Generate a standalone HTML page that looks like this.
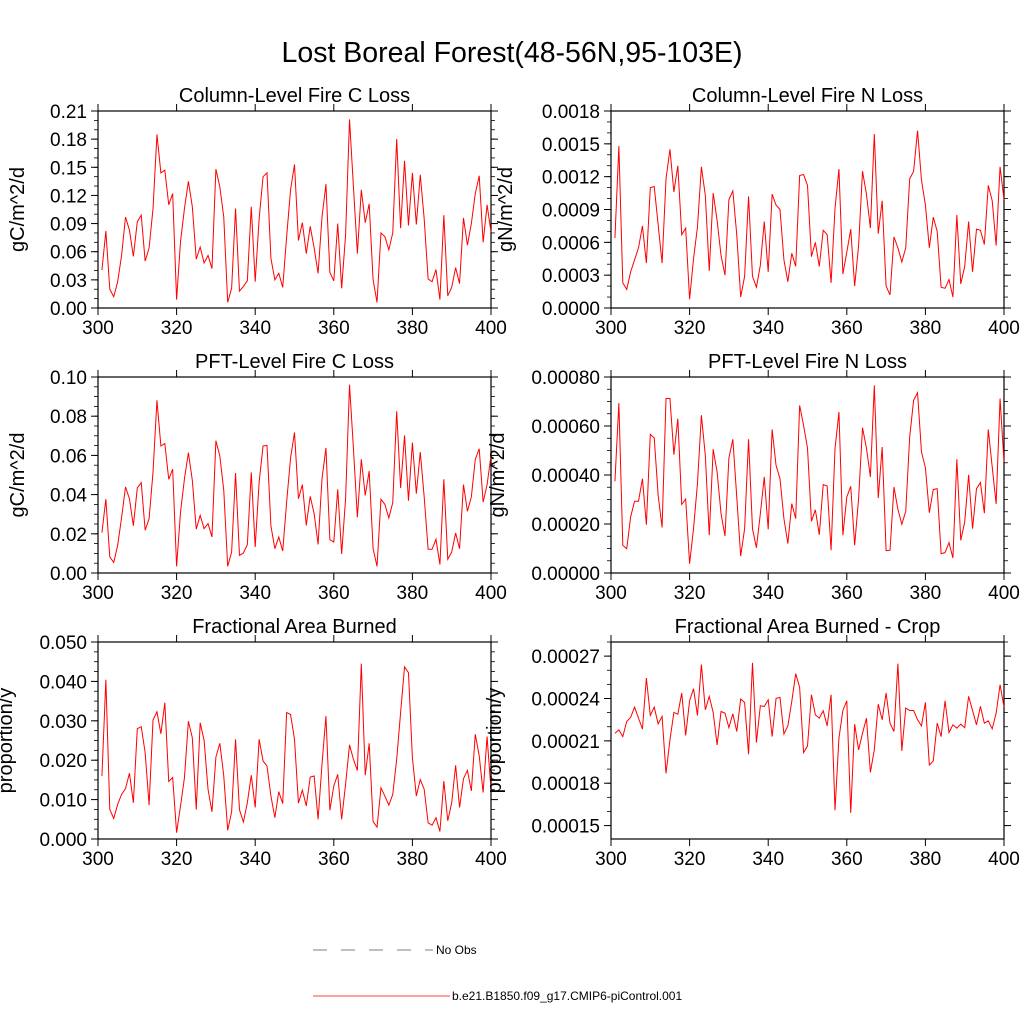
<!DOCTYPE html>
<html><head><meta charset="utf-8"><style>
html,body{margin:0;padding:0;background:#fff}
svg{display:block;font-family:"Liberation Sans",sans-serif}
</style></head><body>
<svg id="chart" width="1024" height="1024" viewBox="0 0 1024 1024">
<text x="512" y="62" text-anchor="middle" font-size="28.5">Lost Boreal Forest(48-56N,95-103E)</text>
<g id="panels"></g>
<g>
<line x1="313" y1="950" x2="433" y2="950" stroke="#555" stroke-width="0.8" stroke-dasharray="14,14"/>
<text x="436" y="954" font-size="12">No Obs</text>
<line x1="313" y1="996" x2="450" y2="996" stroke="red" stroke-width="0.8"/>
<text x="452" y="1000" font-size="12">b.e21.B1850.f09_g17.CMIP6-piControl.001</text>
</g>
</svg>
<script>
const years = Array.from({length:100},(_,i)=>301+i);
const xTicks = [300,320,340,360,380,400];
const colFireC = [0.0405,0.082,0.020,0.012,0.028,0.056,0.097,0.083,0.055,0.092,0.099,0.050,0.064,0.106,0.185,0.144,0.147,0.110,0.122,0.009,0.071,0.106,0.135,0.108,0.052,0.065,0.048,0.056,0.042,0.148,0.129,0.097,0.006,0.021,0.106,0.018,0.023,0.029,0.108,0.028,0.095,0.140,0.144,0.053,0.030,0.037,0.022,0.076,0.126,0.153,0.072,0.091,0.058,0.087,0.064,0.037,0.097,0.132,0.038,0.029,0.090,0.021,0.078,0.201,0.129,0.058,0.126,0.091,0.111,0.030,0.006,0.080,0.076,0.062,0.080,0.180,0.085,0.157,0.088,0.144,0.089,0.142,0.095,0.031,0.028,0.041,0.009,0.099,0.013,0.022,0.043,0.026,0.096,0.067,0.090,0.122,0.141,0.070,0.110,0.081];
const colFireN = [0.00064,0.00148,0.00023,0.00017,0.00033,0.00044,0.00055,0.00075,0.00041,0.00110,0.00111,0.00076,0.00041,0.00118,0.00145,0.00106,0.00130,0.00067,0.00073,0.00008,0.00045,0.00074,0.00129,0.00103,0.00034,0.00105,0.00080,0.00048,0.00030,0.00099,0.00107,0.00067,0.00010,0.00029,0.00102,0.00029,0.00019,0.00039,0.00079,0.00033,0.00104,0.00094,0.00090,0.00044,0.00024,0.00050,0.00038,0.00121,0.00122,0.00112,0.00047,0.00060,0.00038,0.00071,0.00067,0.00023,0.00091,0.00127,0.00031,0.00051,0.00072,0.00020,0.00057,0.00125,0.00104,0.00073,0.00159,0.00068,0.00098,0.00020,0.00012,0.00065,0.00055,0.00042,0.00055,0.00118,0.00125,0.00162,0.00117,0.00094,0.00055,0.00083,0.00070,0.00019,0.00018,0.00026,0.00010,0.00085,0.00022,0.00038,0.00079,0.00033,0.00072,0.00071,0.00058,0.00112,0.00098,0.00057,0.00129,0.00099];
const pftFireC = [0.0206,0.0377,0.0082,0.0054,0.0141,0.0282,0.0439,0.0379,0.0241,0.0434,0.0461,0.0218,0.0277,0.0515,0.0881,0.0648,0.0661,0.0478,0.0530,0.0034,0.0311,0.0481,0.0614,0.0473,0.0224,0.0294,0.0226,0.0252,0.0184,0.0675,0.0597,0.0422,0.0034,0.0107,0.0510,0.0090,0.0102,0.0145,0.0513,0.0133,0.0464,0.0648,0.0651,0.0240,0.0124,0.0184,0.0112,0.0362,0.0587,0.0717,0.0379,0.0451,0.0243,0.0391,0.0303,0.0146,0.0481,0.0638,0.0170,0.0158,0.0427,0.0097,0.0379,0.0961,0.0634,0.0284,0.0580,0.0396,0.0520,0.0124,0.0034,0.0376,0.0350,0.0281,0.0359,0.0825,0.0434,0.0702,0.0369,0.0665,0.0405,0.0617,0.0388,0.0121,0.0121,0.0172,0.0043,0.0478,0.0070,0.0107,0.0204,0.0124,0.0451,0.0315,0.0388,0.0580,0.0634,0.0362,0.0450,0.0600];
const pftFireN = [0.000374,0.000694,0.000113,0.000099,0.000229,0.000293,0.000293,0.000385,0.000197,0.000566,0.000551,0.000317,0.000186,0.000712,0.000712,0.000483,0.000630,0.000280,0.000302,0.000038,0.000181,0.000365,0.000644,0.000480,0.000154,0.000505,0.000412,0.000242,0.000151,0.000469,0.000546,0.000310,0.000069,0.000181,0.000546,0.000181,0.000103,0.000242,0.000392,0.000178,0.000586,0.000439,0.000385,0.000222,0.000120,0.000283,0.000222,0.000684,0.000603,0.000510,0.000211,0.000258,0.000156,0.000361,0.000355,0.000093,0.000507,0.000657,0.000154,0.000310,0.000354,0.000113,0.000303,0.000593,0.000510,0.000392,0.000766,0.000306,0.000514,0.000091,0.000093,0.000351,0.000260,0.000199,0.000252,0.000555,0.000705,0.000736,0.000494,0.000430,0.000246,0.000341,0.000344,0.000079,0.000083,0.000124,0.000061,0.000464,0.000133,0.000208,0.000401,0.000181,0.000344,0.000369,0.000244,0.000586,0.000433,0.000282,0.000712,0.000453];
const areaBurned = [0.0160,0.0404,0.0075,0.0052,0.0088,0.0113,0.0128,0.0167,0.0092,0.0280,0.0285,0.0219,0.0086,0.0302,0.0323,0.0267,0.0346,0.0146,0.0156,0.0016,0.0084,0.0156,0.0299,0.0257,0.0075,0.0295,0.0250,0.0126,0.0069,0.0208,0.0243,0.0160,0.0022,0.0069,0.0253,0.0074,0.0043,0.0092,0.0162,0.0080,0.0253,0.0198,0.0185,0.0109,0.0054,0.0120,0.0090,0.0321,0.0316,0.0253,0.0091,0.0124,0.0084,0.0157,0.0160,0.0050,0.0190,0.0312,0.0073,0.0135,0.0164,0.0050,0.0139,0.0239,0.0202,0.0174,0.0445,0.0162,0.0243,0.0044,0.0030,0.0130,0.0109,0.0086,0.0113,0.0202,0.0321,0.0437,0.0422,0.0206,0.0109,0.0151,0.0126,0.0041,0.0035,0.0054,0.0019,0.0147,0.0046,0.0092,0.0187,0.0080,0.0153,0.0174,0.0122,0.0266,0.0211,0.0118,0.0260,0.0125];
const areaBurnedCrop = [21.54e-5,21.78e-5,21.30e-5,22.37e-5,22.66e-5,23.39e-5,22.61e-5,21.83e-5,25.45e-5,22.80e-5,23.39e-5,22.20e-5,22.73e-5,18.70e-5,21.07e-5,23.01e-5,22.89e-5,24.39e-5,21.38e-5,23.84e-5,24.69e-5,22.80e-5,26.40e-5,23.20e-5,24.15e-5,23.01e-5,20.71e-5,23.08e-5,22.96e-5,21.94e-5,22.92e-5,21.66e-5,23.96e-5,23.72e-5,20.05e-5,26.52e-5,20.88e-5,23.48e-5,23.44e-5,23.91e-5,21.30e-5,24.01e-5,24.08e-5,21.49e-5,22.06e-5,23.79e-5,25.76e-5,24.79e-5,20.17e-5,20.64e-5,24.27e-5,22.84e-5,22.61e-5,23.13e-5,22.06e-5,24.27e-5,16.09e-5,21.19e-5,23.15e-5,23.84e-5,15.90e-5,22.18e-5,20.36e-5,21.54e-5,22.61e-5,18.77e-5,20.36e-5,23.60e-5,22.49e-5,24.39e-5,22.25e-5,21.66e-5,26.47e-5,20.29e-5,23.32e-5,23.15e-5,23.15e-5,22.49e-5,22.06e-5,23.72e-5,19.29e-5,19.57e-5,22.25e-5,21.30e-5,23.84e-5,21.59e-5,22.13e-5,21.90e-5,22.18e-5,21.94e-5,24.15e-5,23.15e-5,22.13e-5,23.44e-5,22.25e-5,22.42e-5,21.85e-5,22.96e-5,24.98e-5,23.39e-5];
const ticks1 = ["0.00","0.03","0.06","0.09","0.12","0.15","0.18","0.21"];
const ticks2 = ["0.0000","0.0003","0.0006","0.0009","0.0012","0.0015","0.0018"];
const ticks3 = ["0.00","0.02","0.04","0.06","0.08","0.10"];
const ticks4 = ["0.00000","0.00020","0.00040","0.00060","0.00080"];
const ticks5 = ["0.000","0.010","0.020","0.030","0.040","0.050"];
const ticks6 = ["0.00015","0.00018","0.00021","0.00024","0.00027"];

const NS="http://www.w3.org/2000/svg";
const root=document.getElementById('panels');
function mk(tag,attrs,parent){const e=document.createElementNS(NS,tag);for(const k in attrs)e.setAttribute(k,attrs[k]);(parent||root).appendChild(e);return e;}

const panels=[
 {name:'column-fire-c',title:'Column-Level Fire C Loss',ylab:'gC/m^2/d',data:colFireC,ticks:ticks1,ymin:0,ymax:0.21,minor:0.01,x0:98,x1:491,y0:111,y1:308,labX:17},
 {name:'column-fire-n',title:'Column-Level Fire N Loss',ylab:'gN/m^2/d',data:colFireN,ticks:ticks2,ymin:0,ymax:0.0018,minor:0.0001,x0:611,x1:1004,y0:111,y1:308,labX:505},
 {name:'pft-fire-c',title:'PFT-Level Fire C Loss',ylab:'gC/m^2/d',data:pftFireC,ticks:ticks3,ymin:0,ymax:0.1,minor:0.005,x0:98,x1:491,y0:377,y1:573,labX:17},
 {name:'pft-fire-n',title:'PFT-Level Fire N Loss',ylab:'gN/m^2/d',data:pftFireN,ticks:ticks4,ymin:0,ymax:0.0008,minor:0.00005,x0:611,x1:1004,y0:377,y1:573,labX:497},
 {name:'area-burned',title:'Fractional Area Burned',ylab:'proportion/y',data:areaBurned,ticks:ticks5,ymin:0,ymax:0.05,minor:0.0025,x0:98,x1:491,y0:642,y1:839,labX:5},
 {name:'area-burned-crop',title:'Fractional Area Burned - Crop',ylab:'proportion/y',data:areaBurnedCrop,ticks:ticks6,ymin:0.0001405,ymax:0.00028,minor:0.00001,x0:611,x1:1004,y0:642,y1:839,labX:494}
];

panels.forEach(p=>{
 const g=mk('g',{});
 
 
 const xs=v=>p.x0+(v-300)/100*(p.x1-p.x0);
 const ys=v=>p.y1-(v-p.ymin)/(p.ymax-p.ymin)*(p.y1-p.y0);
 const fr=mk('rect',{x:p.x0,y:p.y0,width:p.x1-p.x0,height:p.y1-p.y0,fill:'none',stroke:'#000','stroke-width':1.2},g);
 
 
 const t=mk('text',{x:(p.x0+p.x1)/2,y:p.y0-9,'text-anchor':'middle','font-size':20},g);
 t.textContent=p.title;
 
 
 const cy=(p.y0+p.y1)/2;
 const yl=mk('text',{x:p.labX+7,y:cy,'text-anchor':'middle','font-size':20,transform:`rotate(-90 ${p.labX+7} ${cy})`},g);
 yl.textContent=p.ylab;
 
 
 xTicks.forEach(v=>{
  const x=xs(v);
  mk('line',{x1:x,x2:x,y1:p.y1,y2:p.y1+7,stroke:'#000'},g);
  mk('line',{x1:x,x2:x,y1:p.y0,y2:p.y0-7,stroke:'#000'},g);
  const tl=mk('text',{x:x,y:p.y1+26,'text-anchor':'middle','font-size':19},g);
  tl.textContent=v;
  
  
 });
 const start=Math.ceil(p.ymin/p.minor-1e-6)*p.minor;
 for(let v=start;v<=p.ymax+1e-12;v+=p.minor){
  const y=ys(v);
  mk('line',{x1:p.x0,x2:p.x0-4,y1:y,y2:y,stroke:'#000','stroke-width':0.8},g);
  mk('line',{x1:p.x1,x2:p.x1+4,y1:y,y2:y,stroke:'#000','stroke-width':0.8},g);
 }
 p.ticks.forEach(lbl=>{
  const v=parseFloat(lbl);
  const y=ys(v);
  mk('line',{x1:p.x0,x2:p.x0-7,y1:y,y2:y,stroke:'#000'},g);
  mk('line',{x1:p.x1,x2:p.x1+7,y1:y,y2:y,stroke:'#000'},g);
  const tl=mk('text',{x:p.x0-11,y:y+7,'text-anchor':'end','font-size':19},g);
  tl.textContent=lbl;
  
  
 });
 const pts=p.data.map((v,i)=>xs(years[i]).toFixed(2)+','+ys(v).toFixed(2)).join(' ');
 const ln=mk('polyline',{points:pts,fill:'none',stroke:'red','stroke-width':1},g);
 
 
});
</script>
</body></html>
